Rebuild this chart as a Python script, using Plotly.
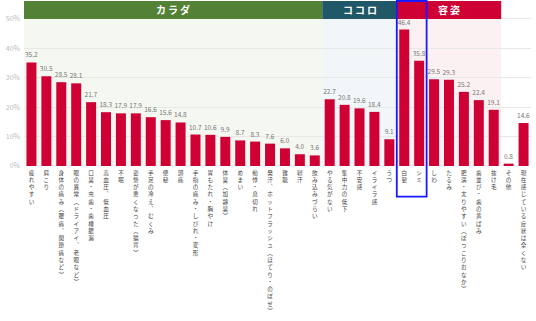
import plotly.graph_objects as go

categories = [
    "疲れやすい", "肩こり", "身体の痛み（腰痛、関節痛など）", "眼の異常（ドライアイ、老眼など）",
    "口臭・虫歯・歯槽膿漏", "高血圧、低血圧", "不眠", "姿勢が悪くなった（猫背）",
    "手足の冷え、むくみ", "便秘", "頭痛", "手指の痛み・しびれ・変形", "胃もたれ・胸やけ",
    "体臭（加齢臭）", "めまい", "動悸・息切れ", "発汗、ホットフラッシュ（ほてり・のぼせ）",
    "難聴", "寝汗", "飲み込みづらい",
    "やる気がない", "集中力の低下", "不安感", "イライラ感", "うつ",
    "白髪", "シミ", "しわ", "たるみ", "肥満・太りやすい（ぽっこりおなか）", "歯並び・歯の黄ばみ", "抜け毛",
    "その他", "現在感じている症状は全くない",
]
values = [
    35.2, 30.5, 28.5, 28.1, 21.7, 18.3, 17.9, 17.9, 16.6, 15.6, 14.8, 10.7, 10.6, 9.9, 8.7, 8.3, 7.6, 6.0, 4.0, 3.6,
    22.7, 20.8, 19.6, 18.4, 9.1,
    46.4, 35.8, 29.5, 29.3, 25.2, 22.4, 19.1,
    0.8, 14.6,
]
group_names = ["カラダ", "ココロ", "容姿"]
group_sizes = [20, 5, 7]
group_header_colors = ["#538135", "#215868", "#cf0033"]
group_bg_colors = ["#f4f8f1", "#f1f6f9", "#fcf1f2"]
highlight = ["白髪", "シミ"]
y_ticks = [0, 10, 20, 30, 40, 50]
y_tick_text = ["0%", "10%", "20%", "30%", "40%", "50%"]

FONT = "Noto Sans CJK JP, Noto Sans, sans-serif"
BAR_COLOR = "#cf0033"
Y_MAX = 56.1
HEADER_BASE = 50

# vertical (tategaki) tick text: one character per line, vertical punctuation forms
vmap = {"（": "︵", "）": "︶", "、": "︑", "(": "︵", ")": "︶"}
vertical_text = ["<br>".join(vmap.get(ch, ch) for ch in c) for c in categories]

fig = go.Figure()
fig.add_trace(go.Bar(
    x=categories, y=values,
    marker=dict(color=BAR_COLOR, line=dict(width=0)),
    texttemplate="%{y:.1f}", textposition="outside",
    textfont=dict(size=6.5, color="#777777", family=FONT),
    constraintext="none", cliponaxis=False,
    hoverinfo="skip",
))

shapes = []
annotations = []
start = 0
for name, size, hc, bc in zip(group_names, group_sizes, group_header_colors, group_bg_colors):
    x0 = start - 0.5
    x1 = start + size - 0.5
    shapes.append(dict(type="rect", xref="x", yref="y", x0=x0, x1=x1, y0=0, y1=HEADER_BASE,
                       fillcolor=bc, line=dict(width=0), layer="below"))
    shapes.append(dict(type="rect", xref="x", yref="y", x0=x0, x1=x1, y0=HEADER_BASE, y1=Y_MAX,
                       fillcolor=hc, line=dict(width=0), layer="above"))
    annotations.append(dict(x=(x0 + x1) / 2, y=(HEADER_BASE + Y_MAX) / 2, xref="x", yref="y",
                            text="<b>" + "\u2009".join(name) + "</b>", showarrow=False,
                            font=dict(size=10, color="white", family=FONT)))
    start += size

# highlight box around 白髪 / シミ
hi = [categories.index(c) for c in highlight]
shapes.append(dict(type="rect", xref="x", yref="paper", x0=min(hi) - 0.5, x1=max(hi) + 0.5,
                   y0=-0.185, y1=1.0, line=dict(color="#1a1aff", width=1.8),
                   fillcolor="rgba(0,0,0,0)", layer="above"))

fig.update_layout(
    width=536, height=321,
    margin=dict(l=24, r=5, t=1, b=155, pad=0),
    paper_bgcolor="white", plot_bgcolor="white",
    bargap=0.33, showlegend=False,
    font=dict(family=FONT),
    shapes=shapes, annotations=annotations,
    xaxis=dict(type="category", tickvals=categories, ticktext=vertical_text, tickangle=0,
               tickfont=dict(size=5.6, color="#444444", family=FONT), ticklabelstandoff=2,
               showgrid=False, zeroline=False, showline=False, ticks="",
               range=[-0.5, len(categories) - 0.5], fixedrange=True),
    yaxis=dict(range=[0, Y_MAX], tickvals=y_ticks, ticktext=y_tick_text, showgrid=True,
               gridcolor="#e8e8e8", gridwidth=1, zeroline=False, showline=False, ticks="",
               ticklabelstandoff=3,
               tickfont=dict(size=7, color="#bbbbbb", family=FONT), fixedrange=True),
)

fig.write_html("out.html")
